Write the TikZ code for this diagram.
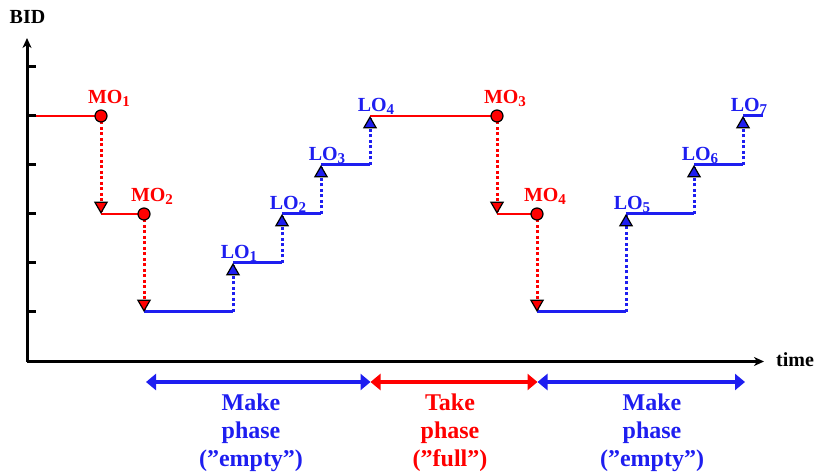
\documentclass[tikz,border=0pt]{standalone}
\usepackage{fontspec}
\setmainfont{Liberation Serif}
\usepackage{tikz}
\usetikzlibrary{arrows.meta,positioning,shapes.geometric,backgrounds}
\definecolor{vred}{HTML}{FF0000}
\definecolor{vblue}{HTML}{1E1EF0}
\newcommand\lowidx[1]{\raisebox{-3pt}{\fontsize{15}{15}\selectfont #1}}
\tikzset{
  axisln/.style={line width=3pt,draw=black,-{Stealth[length=10pt,width=9pt,inset=3pt]}},
  tickln/.style={line width=3pt,draw=black},
  redln/.style={line width=2.8pt,draw=vred},
  reddot/.style={line width=3pt,draw=vred,dash pattern=on 3pt off 2.5pt},
  blueln/.style={line width=3pt,draw=vblue},
  bluedot/.style={line width=3pt,draw=vblue,dash pattern=on 3pt off 2.5pt},
  mocirc/.style={circle,draw=black,fill=vred,line width=1.2pt,minimum size=12pt,inner sep=0pt},
  motri/.style={regular polygon,regular polygon sides=3,shape border rotate=180,draw=black,fill=vred,line width=1.2pt,minimum size=14pt,inner sep=0pt,anchor=corner 1},
  lotri/.style={regular polygon,regular polygon sides=3,draw=black,fill=vblue,line width=1.2pt,minimum size=14pt,inner sep=0pt,anchor=corner 1},
  molbl/.style={font=\fontsize{20}{22}\selectfont\bfseries,text=vred,inner sep=0pt},
  lolbl/.style={font=\fontsize{20}{22}\selectfont\bfseries,text=vblue,inner sep=0pt},
  axlbl/.style={font=\fontsize{20}{22}\selectfont\bfseries,inner sep=0pt},
  phlbl/.style={font=\fontsize{24}{28}\selectfont\bfseries,align=center,inner sep=0pt},
  parr/.style={{Triangle[length=10pt,width=16pt]}-{Triangle[length=10pt,width=16pt]},line width=3.4pt},
}
\begin{document}
\begin{tikzpicture}[x=1pt,y=1pt]
  \useasboundingbox (0,0) rectangle (816,474);
  % axes
  \coordinate (o) at (27,112.5);
  \coordinate (ytop) at (27,436);
  \coordinate (xend) at (764,112.5);
  \draw[axisln] (o) -- (ytop);
  \draw[axisln] (o) -- (xend);
  \foreach \y in {162,211,260,309,358,407}
    \draw[tickln] (27,\y) -- (36,\y);
  \node[axlbl] (bid) at (27.5,457) {BID};
  \node[axlbl,anchor=base west] (time) at (776,107) {time};
  % orders
  \node[mocirc] (mo1) at (101,358) {};
  \node[motri] (d1) at (101,260) {};
  \node[mocirc] (mo2) at (144,260) {};
  \node[motri] (d2) at (144,162) {};
  \node[lotri] (lo1) at (233,211) {};
  \node[lotri] (lo2) at (282,260) {};
  \node[lotri] (lo3) at (321,309) {};
  \node[lotri] (lo4) at (370,358) {};
  \node[mocirc] (mo3) at (497,358) {};
  \node[motri] (d3) at (497,260) {};
  \node[mocirc] (mo4) at (537,260) {};
  \node[motri] (d4) at (537,162) {};
  \node[lotri] (lo5) at (626,260) {};
  \node[lotri] (lo6) at (694,309) {};
  \node[lotri] (lo7) at (743,358) {};
  \coordinate (bend) at (763,358);
  % bid path
  \begin{scope}[on background layer]
    \draw[redln] (o |- mo1) -- (mo1.center);
    \draw[reddot] (mo1.center) -- (d1.corner 1);
    \draw[redln] (d1.corner 1) -- (mo2.center);
    \draw[reddot] (mo2.center) -- (d2.corner 1);
    \foreach \a/\b in {d2/lo1,lo1/lo2,lo2/lo3,lo3/lo4,d4/lo5,lo5/lo6,lo6/lo7} {
      \draw[blueln] (\a.corner 1) -- (\a.corner 1 -| \b.corner 1);
      \draw[bluedot] (\a.corner 1 -| \b.corner 1) -- (\b.corner 1);
    }
    \draw[redln] (lo4.corner 1) -- (mo3.center);
    \draw[reddot] (mo3.center) -- (d3.corner 1);
    \draw[redln] (d3.corner 1) -- (mo4.center);
    \draw[reddot] (mo4.center) -- (d4.corner 1);
    \draw[blueln] (lo7.corner 1) -- (bend);
  \end{scope}
  % labels
  \node[molbl,above=3pt of mo1,xshift=8pt] (tmo1) {MO\lowidx{1}};
  \node[molbl,above=3pt of mo2,xshift=8pt] (tmo2) {MO\lowidx{2}};
  \node[molbl,above=3pt of mo3,xshift=8pt] (tmo3) {MO\lowidx{3}};
  \node[molbl,above=3pt of mo4,xshift=8pt] (tmo4) {MO\lowidx{4}};
  \node[lolbl,above=1pt of lo1,xshift=6pt] (tlo1) {LO\lowidx{1}};
  \node[lolbl,above=1pt of lo2,xshift=6pt] (tlo2) {LO\lowidx{2}};
  \node[lolbl,above=1pt of lo3,xshift=6pt] (tlo3) {LO\lowidx{3}};
  \node[lolbl,above=1pt of lo4,xshift=6pt] (tlo4) {LO\lowidx{4}};
  \node[lolbl,above=1pt of lo5,xshift=6pt] (tlo5) {LO\lowidx{5}};
  \node[lolbl,above=1pt of lo6,xshift=6pt] (tlo6) {LO\lowidx{6}};
  \node[lolbl,above=1pt of lo7,xshift=6pt] (tlo7) {LO\lowidx{7}};
  % phases
  \coordinate (ph0) at (146,92);
  \coordinate (ph1) at (370.5,92);
  \coordinate (ph2) at (537.5,92);
  \coordinate (ph3) at (745,92);
  \draw[parr,draw=vblue,fill=vblue] (ph0) -- (ph1);
  \draw[parr,draw=vred,fill=vred] (ph1) -- (ph2);
  \draw[parr,draw=vblue,fill=vblue] (ph2) -- (ph3);
  \node[phlbl,text=vblue] (mk1) at (251,41) {Make\\phase\\(”empty”)};
  \node[phlbl,text=vred] (tk) at (450,41) {Take\\phase\\(”full”)};
  \node[phlbl,text=vblue] (mk2) at (652,41) {Make\\phase\\(”empty”)};
\end{tikzpicture}
\end{document}
